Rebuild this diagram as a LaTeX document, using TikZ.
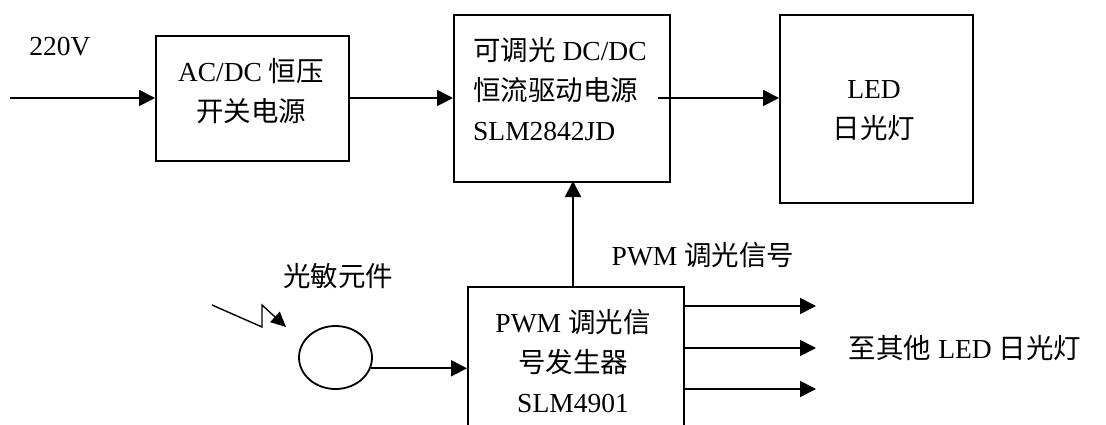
\documentclass[tikz,border=0pt]{standalone}
\usepackage{fontspec}
\setmainfont{Liberation Serif}
\newfontfamily\cjk{Noto Sans CJK SC}
\usetikzlibrary{arrows.meta,shapes.geometric}
\tikzset{
  blk/.style={draw, line width=1.8pt, inner sep=0pt, anchor=north west},
  txt/.style={inner sep=0pt, font=\fontsize{27.5}{40}\selectfont},
  conn/.style={line width=1.8pt, -{Triangle[length=16pt,width=16pt]}},
}
\begin{document}
\begin{tikzpicture}[x=1pt,y=-1pt]
\useasboundingbox (0,0) rectangle (1106,425);
% boxes
\node[blk, minimum width=193pt, minimum height=125pt] (acdc) at (155,35) {};
\node[blk, minimum width=216pt, minimum height=167pt] (dcdc) at (453,14) {};
\node[blk, minimum width=193pt, minimum height=188pt] (led) at (779,14) {};
\node[blk, minimum width=216pt, minimum height=170pt] (pwm) at (467,286) {};
\node[draw, line width=1.8pt, ellipse, minimum width=73pt, minimum height=63pt, inner sep=0pt] (sensor) at (335.5,357.5) {};
% texts
\node[txt] (t220) at (60,47) {220V};
\node[txt, align=center] (tacdc) at (251,91) {AC/DC {\cjk 恒压}\\{\cjk 开关电源}};
\node[txt, align=left, anchor=west] (tdcdc) at (473,89) {{\cjk 可调光} DC/DC\\{\cjk 恒流驱动电源}\\SLM2842JD};
\node[txt, align=center] (tled) at (874,111) {LED\\{\cjk 日光灯}};
\node[txt, align=center] (tpwm) at (573,361) {PWM {\cjk 调光信}\\{\cjk 号发生器}\\SLM4901};
\node[txt] (tsig) at (703,255) {PWM {\cjk 调光信号}};
\node[txt] (tsens) at (338,276) {\cjk 光敏元件};
\node[txt] (tother) at (965,348) {{\cjk 至其他} LED {\cjk 日光灯}};
% coordinates
\coordinate (in) at (10,98);
\coordinate (dcout) at (658,98);
\coordinate (o1) at (816,306);
\coordinate (o2) at (816,348);
\coordinate (o3) at (816,389);
\coordinate (l1) at (212,305);
\coordinate (l2) at (262,327);
\coordinate (l3) at (262,305);
\coordinate (l4) at (286,327);
% connectors
\draw[conn] (in) -- (in -| acdc.west);
\draw[conn] (acdc.east |- in) -- (in -| dcdc.west);
\draw[conn] (dcout) -- (dcout -| led.west);
\draw[conn] (573,286) -- (573,181);
\draw[conn] (sensor.-17) -- (sensor.-17 -| pwm.west);
\draw[conn] (o1 -| pwm.east) -- (o1);
\draw[conn] (o2 -| pwm.east) -- (o2);
\draw[conn] (o3 -| pwm.east) -- (o3);
\draw[line width=1.4pt, -{Triangle[length=15pt,width=14pt]}] (l1) -- (l2) -- (l3) -- (l4);
\end{tikzpicture}
\end{document}
